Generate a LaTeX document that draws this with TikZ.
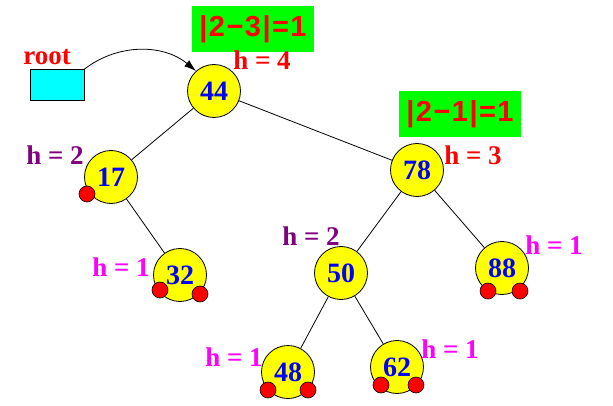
\documentclass[tikz,border=0pt]{standalone}
\usepackage{fontspec}
\setmainfont{Liberation Serif}
\newfontfamily\boxfont[LetterSpace=5]{Liberation Sans}
\usetikzlibrary{arrows.meta}
\definecolor{nodeyellow}{RGB}{255,255,0}
\definecolor{numblue}{RGB}{0,0,255}
\definecolor{hred}{RGB}{255,0,0}
\definecolor{hpurple}{RGB}{128,0,128}
\definecolor{hmagenta}{RGB}{255,0,255}
\definecolor{boxgreen}{RGB}{0,255,0}
\definecolor{rootcyan}{RGB}{0,255,255}
\tikzset{
  treenode/.style={circle, draw=black, line width=0.8pt, fill=nodeyellow, minimum size=53pt, inner sep=0pt,
    text=numblue, font=\fontsize{28}{28}\selectfont\bfseries},
  nilnode/.style={circle, draw=black, line width=0.6pt, fill=hred, minimum size=16pt, inner sep=0pt},
  hlabel/.style={inner sep=0pt, font=\fontsize{27}{27}\selectfont\bfseries},
  diffbox/.style={fill=boxgreen, inner sep=0pt, text=hred, font=\boxfont\fontsize{29}{29}\selectfont\bfseries},
  edge/.style={draw=black, line width=0.8pt},
}
\begin{document}
\begin{tikzpicture}[x=1pt,y=-1pt]
\useasboundingbox (0,0) rectangle (613,406);
% node positions (drawn after the edges)
\coordinate (p44) at (214,91);
\coordinate (p17) at (111,177);
\coordinate (p78) at (417,170);
\coordinate (p32) at (180,275);
\coordinate (p50) at (341,273);
\coordinate (p88) at (502,268);
\coordinate (p48) at (288,372);
\coordinate (p62) at (397,367);
\path (p44) node[treenode, draw=none, fill=none] (n44) {}
      (p17) node[treenode, draw=none, fill=none] (n17) {}
      (p78) node[treenode, draw=none, fill=none] (n78) {}
      (p32) node[treenode, draw=none, fill=none] (n32) {}
      (p50) node[treenode, draw=none, fill=none] (n50) {}
      (p88) node[treenode, draw=none, fill=none] (n88) {}
      (p48) node[treenode, draw=none, fill=none] (n48) {}
      (p62) node[treenode, draw=none, fill=none] (n62) {};
% edges
\draw[edge] (n44) -- (n17);
\draw[edge] (n44) -- (n78);
\draw[edge] (n17) -- (n32);
\draw[edge] (n78) -- (n50);
\draw[edge] (n78) -- (n88);
\draw[edge] (n50) -- (n48);
\draw[edge] (n50) -- (n62);
% tree nodes
\node[treenode] (t44) at (n44) {44};
\node[treenode] (t17) at (n17) {17};
\node[treenode] (t78) at (n78) {78};
\node[treenode] (t32) at (n32) {32};
\node[treenode] (t50) at (n50) {50};
\node[treenode] (t88) at (n88) {88};
\node[treenode] (t48) at (n48) {48};
\node[treenode] (t62) at (n62) {62};
% nil dots
\node[nilnode] (d17) at (87,194) {};
\node[nilnode] (d32a) at (160,290) {};
\node[nilnode] (d32b) at (200,294) {};
\node[nilnode] (d48a) at (268,390) {};
\node[nilnode] (d48b) at (308,390) {};
\node[nilnode] (d62a) at (381,385) {};
\node[nilnode] (d62b) at (416,385) {};
\node[nilnode] (d88a) at (488,291) {};
\node[nilnode] (d88b) at (520,291) {};
% root
\node[draw=black, line width=0.8pt, fill=rootcyan, minimum width=54pt, minimum height=31pt, inner sep=0pt] (root) at (57,85) {};
\node[hlabel, text=hred] (rootlbl) at (47,57) {root};
\draw[line width=0.8pt, -{Latex[length=12pt,width=8pt]}] (root.north east) .. controls (120,42) and (165,45) .. (t44.132);
% balance boxes
\node[diffbox, minimum width=122pt, minimum height=46pt] (b1) at (253,29) {|2−3|=1};
\node[diffbox, minimum width=122pt, minimum height=46pt] (b2) at (460,114) {|2−1|=1};
% heights
\node[hlabel, text=hred] (h44) at (262,60) {h = 4};
\node[hlabel, text=hpurple] (h17) at (55,155) {h = 2};
\node[hlabel, text=hred] (h78) at (473,155) {h = 3};
\node[hlabel, text=hpurple] (h50) at (311,236) {h = 2};
\node[hlabel, text=hmagenta] (h88) at (554,245) {h = 1};
\node[hlabel, text=hmagenta] (h32) at (121,267) {h = 1};
\node[hlabel, text=hmagenta] (h48) at (234,357) {h = 1};
\node[hlabel, text=hmagenta] (h62) at (450,349) {h = 1};
\end{tikzpicture}
\end{document}
